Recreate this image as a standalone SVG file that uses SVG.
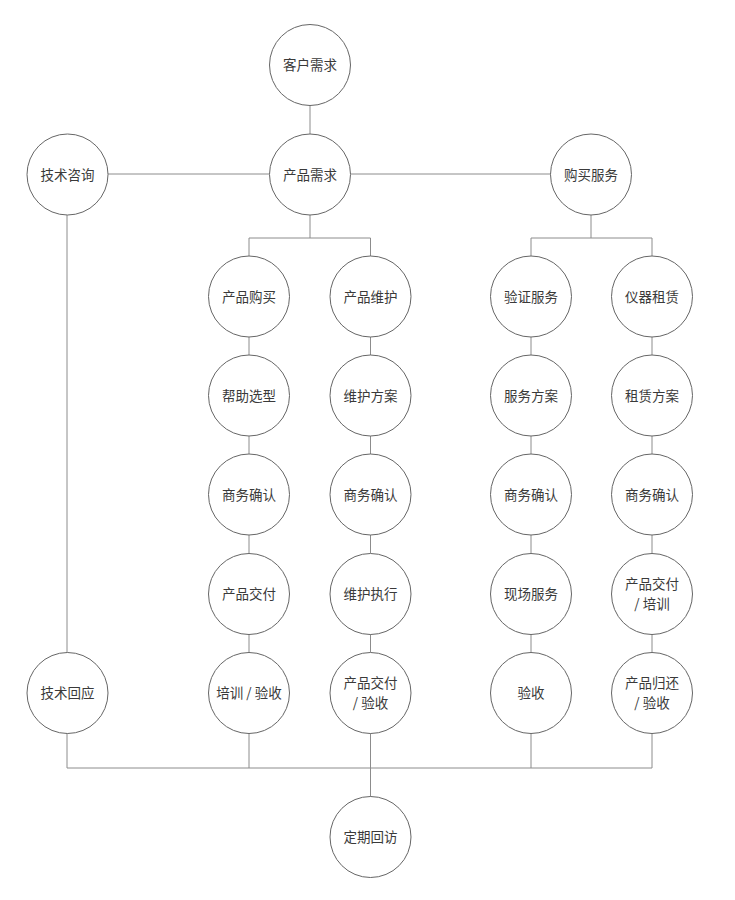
<svg xmlns="http://www.w3.org/2000/svg" width="735" height="900" viewBox="0 0 735 900">
<style>
.n circle{fill:#fff;stroke:#666;stroke-width:1}
.n text{font-family:"Noto Sans CJK SC","Noto Sans",sans-serif;font-size:13.5px;fill:#3a3a3a;text-anchor:middle}
#connectors path{fill:none;stroke:#8c8c8c;stroke-width:1}
</style>
<rect width="735" height="900" fill="#fff"/>
<g id="connectors">
<path d="M310,106V134"/>
<path d="M108,174H269M351,174H551"/>
<path d="M67,215V653"/>
<path d="M310,215V238M249,256V238H370.5V256"/>
<path d="M591,215V238M531,256V238H652V256"/>
<path d="M249,337V355M249,436V454M249,535V553M249,634V652"/>
<path d="M370.5,337V355M370.5,436V454M370.5,535V553M370.5,634V652"/>
<path d="M531,337V355M531,436V454M531,535V553M531,634V652"/>
<path d="M652,337V355M652,436V454M652,535V553M652,634V652"/>
<path d="M67,733V768M249,733V768M370.5,733V797M531,733V768M652,733V768M67,768H652"/>
</g>
<g id="n1" class="n"><circle cx="310" cy="65" r="40.5"/><text x="310" y="70">客户需求</text></g>
<g id="n2" class="n"><circle cx="310" cy="174.5" r="40.5"/><text x="310" y="179.5">产品需求</text></g>
<g id="n3" class="n"><circle cx="67.5" cy="174.5" r="40.5"/><text x="67.5" y="179.5">技术咨询</text></g>
<g id="n4" class="n"><circle cx="591" cy="174.5" r="40.5"/><text x="591" y="179.5">购买服务</text></g>
<g id="a1" class="n"><circle cx="249" cy="296.5" r="40.5"/><text x="249" y="301.5">产品购买</text></g>
<g id="a2" class="n"><circle cx="249" cy="395.5" r="40.5"/><text x="249" y="400.5">帮助选型</text></g>
<g id="a3" class="n"><circle cx="249" cy="494.5" r="40.5"/><text x="249" y="499.5">商务确认</text></g>
<g id="a4" class="n"><circle cx="249" cy="594" r="40.5"/><text x="249" y="599">产品交付</text></g>
<g id="a5" class="n"><circle cx="249" cy="693" r="40.5"/><text x="249" y="698">培训 / 验收</text></g>
<g id="b1" class="n"><circle cx="370.5" cy="296.5" r="40.5"/><text x="370.5" y="301.5">产品维护</text></g>
<g id="b2" class="n"><circle cx="370.5" cy="395.5" r="40.5"/><text x="370.5" y="400.5">维护方案</text></g>
<g id="b3" class="n"><circle cx="370.5" cy="494.5" r="40.5"/><text x="370.5" y="499.5">商务确认</text></g>
<g id="b4" class="n"><circle cx="370.5" cy="594" r="40.5"/><text x="370.5" y="599">维护执行</text></g>
<g id="b5" class="n"><circle cx="370.5" cy="693" r="40.5"/><text x="370.5" y="688">产品交付</text><text x="370.5" y="708">/ 验收</text></g>
<g id="c1" class="n"><circle cx="531" cy="296.5" r="40.5"/><text x="531" y="301.5">验证服务</text></g>
<g id="c2" class="n"><circle cx="531" cy="395.5" r="40.5"/><text x="531" y="400.5">服务方案</text></g>
<g id="c3" class="n"><circle cx="531" cy="494.5" r="40.5"/><text x="531" y="499.5">商务确认</text></g>
<g id="c4" class="n"><circle cx="531" cy="594" r="40.5"/><text x="531" y="599">现场服务</text></g>
<g id="c5" class="n"><circle cx="531" cy="693" r="40.5"/><text x="531" y="698">验收</text></g>
<g id="d1" class="n"><circle cx="652" cy="296.5" r="40.5"/><text x="652" y="301.5">仪器租赁</text></g>
<g id="d2" class="n"><circle cx="652" cy="395.5" r="40.5"/><text x="652" y="400.5">租赁方案</text></g>
<g id="d3" class="n"><circle cx="652" cy="494.5" r="40.5"/><text x="652" y="499.5">商务确认</text></g>
<g id="d4" class="n"><circle cx="652" cy="594" r="40.5"/><text x="652" y="589">产品交付</text><text x="652" y="609">/ 培训</text></g>
<g id="d5" class="n"><circle cx="652" cy="693" r="40.5"/><text x="652" y="688">产品归还</text><text x="652" y="708">/ 验收</text></g>
<g id="e1" class="n"><circle cx="67.5" cy="693" r="40.5"/><text x="67.5" y="698">技术回应</text></g>
<g id="f1" class="n"><circle cx="370.5" cy="837" r="40.5"/><text x="370.5" y="842">定期回访</text></g>
</svg>
